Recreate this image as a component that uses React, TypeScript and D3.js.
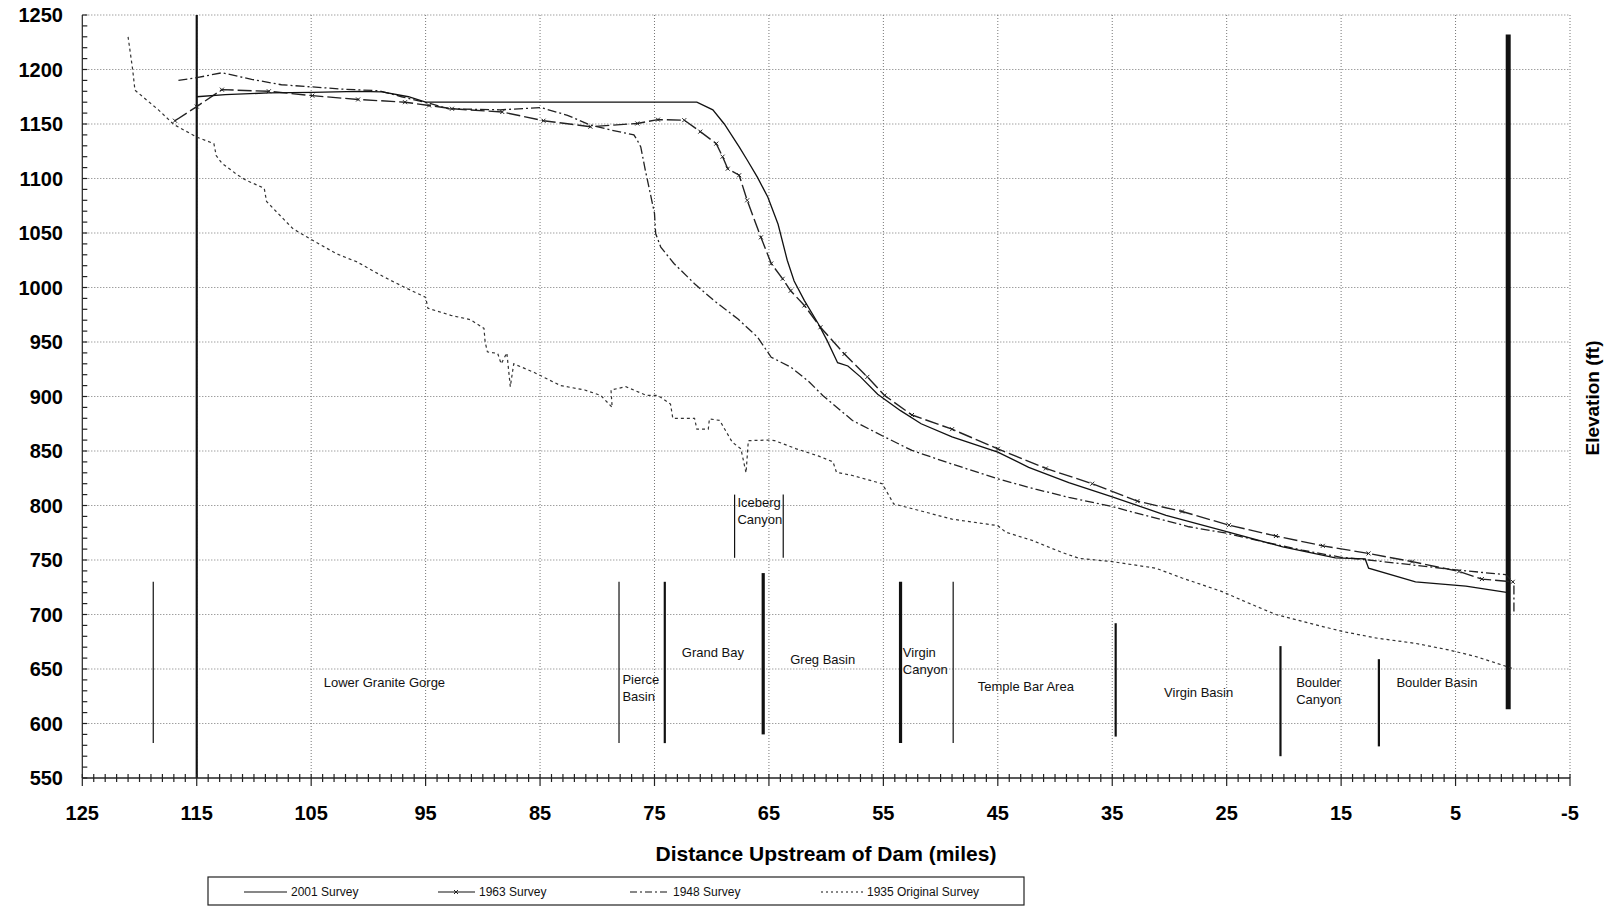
import React from "react";
import * as d3 from "d3";

const WIDTH = 1613;
const HEIGHT = 907;
const FONT = "'Liberation Sans', Arial, sans-serif";

// [miles upstream, elevation ft]
const survey2001: [number, number][] = [
  [115, 1175], [112.5, 1177], [108.7, 1178.5], [104.9, 1179], [100.9, 1180],
  [98.8, 1179.5], [96.5, 1175], [95, 1170], [71.3, 1170], [69.9, 1163],
  [68.9, 1150], [67.6, 1129], [66.9, 1117], [66.0, 1101], [65.1, 1083],
  [64.2, 1058], [63.4, 1025], [62.8, 1006], [61.9, 988], [60.7, 967],
  [59.9, 951], [59.0, 931], [58.1, 928], [57.0, 918], [55.5, 902],
  [53.5, 887], [51.7, 875], [49.0, 863], [45.0, 849], [42.3, 835],
  [38.8, 821], [35.0, 808], [30.3, 791], [25.0, 776], [20.1, 762],
  [15.5, 752], [12.9, 751], [12.6, 742.5], [8.5, 730], [4.1, 726], [0.4, 720],
];

const survey1963: [number, number][] = [
  [116.9, 1153], [115, 1166], [112.8, 1181.5], [108.7, 1180], [104.9, 1176],
  [100.9, 1172.5], [96.8, 1170], [94.7, 1167], [92.7, 1164], [88.3, 1161],
  [84.7, 1153], [80.6, 1147.5], [76.5, 1150.5], [74.7, 1154], [72.4, 1153.5],
  [71.0, 1143], [69.6, 1132], [69.05, 1120], [68.6, 1109], [67.6, 1103],
  [66.9, 1080], [65.7, 1046], [64.8, 1022], [63.8, 1008], [63.1, 997],
  [61.9, 983.5], [60.5, 963.5], [58.4, 939], [56.4, 918], [54.9, 901],
  [52.5, 883], [49.0, 870], [45.0, 852], [40.8, 834], [36.75, 820],
  [32.8, 804], [28.9, 794.5], [24.8, 782], [20.7, 772], [16.6, 763],
  [12.6, 756], [8.8, 748.5], [4.7, 739.5], [2.7, 732.5], [0.0, 730],
];

const survey1948: [number, number][] = [
  [116.6, 1190], [115, 1192.5], [112.8, 1197], [110.2, 1191], [107.6, 1186],
  [104.9, 1184], [102.3, 1182], [99.1, 1180.5], [97.1, 1175], [94.7, 1169],
  [93.0, 1164], [88.5, 1163], [84.9, 1165], [82.6, 1158], [80.6, 1149],
  [78.8, 1144.5], [76.8, 1140], [76.5, 1135], [76.2, 1129], [75.8, 1107.5],
  [75.3, 1083], [75.0, 1068], [74.9, 1049.5], [74.45, 1037], [73.3, 1022],
  [71.5, 1003.5], [69.8, 988], [67.7, 971], [66.0, 954.5], [64.8, 936],
  [63.1, 927], [61.6, 914.5], [60.3, 901], [57.7, 878], [55.1, 864],
  [52.5, 850.5], [49.0, 838], [45.0, 824.5], [41.7, 815], [38.8, 807.5],
  [35.0, 799], [31.8, 790], [28.3, 780.5], [25.0, 774.5], [21.9, 767],
  [18.4, 759], [15.0, 752.5], [12.6, 750], [8.8, 745.5], [5.0, 741],
  [0.6, 736.5], [-0.1, 729], [-0.1, 701],
];

const survey1935: [number, number][] = [
  [121.0, 1230], [120.6, 1200], [120.4, 1181], [118.35, 1163], [117.0, 1149.5],
  [115.0, 1138], [113.5, 1132], [113.3, 1121], [112.8, 1114], [111.4, 1103],
  [110.7, 1098.5], [109.1, 1091], [108.9, 1079], [107.9, 1068], [106.6, 1054],
  [105.4, 1046.5], [102.8, 1031], [101.0, 1023.5], [98.7, 1010], [96.9, 1000.5],
  [95.0, 991], [94.8, 981], [92.8, 974.5], [91.1, 970.5], [89.9, 962.5],
  [89.8, 950], [89.6, 941], [88.7, 939.5], [88.4, 930], [87.9, 940],
  [87.6, 909], [87.3, 930], [85.5, 922], [83.2, 910], [81.1, 906],
  [79.7, 901], [78.7, 890], [78.8, 906], [77.5, 909], [75.7, 901],
  [74.7, 901], [73.6, 893], [73.4, 880], [71.5, 880], [71.3, 870],
  [70.3, 870], [70.2, 879.5], [69.3, 878], [68.2, 858], [67.45, 852],
  [67.0, 830], [66.8, 859.5], [65.1, 860], [64.5, 859.5], [62.6, 852],
  [60.7, 845.5], [59.4, 840], [59.1, 830.5], [57.7, 827.5], [55.1, 820],
  [54.1, 801.5], [51.9, 795.5], [49.0, 787.5], [45.0, 781.5], [44.3, 775.5],
  [42.0, 768], [39.4, 757], [37.9, 751.5], [35.0, 748.5], [31.2, 742.5],
  [28.9, 733.5], [25.4, 721], [23.1, 710.5], [20.7, 700], [17.2, 690.5],
  [14.9, 684.5], [12.0, 678.5], [8.5, 673.5], [5.6, 667.5], [3.25, 661.5],
  [0.6, 652.5], [0.0, 650.5],
];

// reach boundary markers: mile, top elev, bottom elev, weight class
const boundaries = [
  { mile: 118.8, top: 730, bottom: 582, weight: "light" },
  { mile: 115, top: 1250, bottom: 550, weight: "medium" },
  { mile: 78.1, top: 730, bottom: 582, weight: "light" },
  { mile: 74.1, top: 730, bottom: 582, weight: "medium" },
  { mile: 68.0, top: 810, bottom: 752, weight: "light" },
  { mile: 63.75, top: 810, bottom: 752, weight: "light" },
  { mile: 65.5, top: 738, bottom: 590, weight: "heavy" },
  { mile: 53.5, top: 730, bottom: 582, weight: "heavy" },
  { mile: 48.9, top: 730, bottom: 582, weight: "light" },
  { mile: 34.7, top: 692, bottom: 588, weight: "medium" },
  { mile: 20.3, top: 671, bottom: 570, weight: "medium" },
  { mile: 11.7, top: 659, bottom: 579, weight: "medium" },
  { mile: 0.4, top: 1232, bottom: 613, weight: "dam" },
];

const reachLabels = [
  { lines: ["Lower Granite Gorge"], mile: 98.6, elev: 638, align: "middle" },
  { lines: ["Pierce", "Basin"], mile: 77.8, elev: 641, align: "start" },
  { lines: ["Grand Bay"], mile: 69.9, elev: 666, align: "middle" },
  { lines: ["Greg Basin"], mile: 60.3, elev: 659, align: "middle" },
  { lines: ["Virgin", "Canyon"], mile: 53.3, elev: 665.5, align: "start" },
  { lines: ["Temple Bar Area"], mile: 42.55, elev: 634, align: "middle" },
  { lines: ["Iceberg", "Canyon"], mile: 67.75, elev: 803, align: "start" },
  { lines: ["Virgin Basin"], mile: 27.45, elev: 628.5, align: "middle" },
  { lines: ["Boulder", "Canyon"], mile: 18.93, elev: 638.5, align: "start" },
  { lines: ["Boulder Basin"], mile: 6.63, elev: 638.5, align: "middle" },
];

const xTicks = d3.range(125, -6, -10);
const yTicks = d3.range(550, 1251, 50);

const weightWidth: Record<string, number> = { light: 1.2, medium: 2.2, heavy: 3.2, dam: 5 };

export default function App() {
  const x = d3.scaleLinear().domain([125, -5]).range([82.3, 1570]);
  const y = d3.scaleLinear().domain([550, 1250]).range([778, 15]);
  const line = d3
    .line<[number, number]>()
    .x((d) => x(d[0]))
    .y((d) => y(d[1]));

  const x0 = x(125);
  const x1 = x(-5);
  const yBottom = y(550);

  const minorX = d3.range(125, -5.5, -1);
  const minorY = d3.range(550, 1251, 10);

  const xMark = (cx: number, cy: number, key: string) => (
    <path
      key={key}
      d={`M${cx - 2},${cy - 2}L${cx + 2},${cy + 2}M${cx - 2},${cy + 2}L${cx + 2},${cy - 2}`}
      stroke="#222"
      strokeWidth={1}
    />
  );

  return (
    <div style={{ position: "absolute", left: 0, top: 0 }}>
      <svg width={WIDTH} height={HEIGHT} style={{ display: "block", background: "#fff" }}>
        {/* grid */}
        <g stroke="#777" strokeWidth={1} strokeDasharray="1 2">
          {yTicks.filter((t) => t > 550).map((t) => (
            <line key={"gy" + t} x1={x0} x2={x1} y1={y(t)} y2={y(t)} />
          ))}
          {xTicks.filter((t) => t < 125).map((t) => (
            <line key={"gx" + t} x1={x(t)} x2={x(t)} y1={y(1250)} y2={yBottom} />
          ))}
        </g>

        {/* boundary markers */}
        {boundaries.map((b, i) => (
          <line
            key={"b" + i}
            x1={x(b.mile)}
            x2={x(b.mile)}
            y1={y(b.top)}
            y2={y(b.bottom)}
            stroke="#111"
            strokeWidth={weightWidth[b.weight]}
          />
        ))}

        {/* survey lines */}
        <path d={line(survey1935) || ""} fill="none" stroke="#333" strokeWidth={1.2} strokeDasharray="3 3" />
        <path d={line(survey1948) || ""} fill="none" stroke="#222" strokeWidth={1.3} strokeDasharray="9 3 2 3" />
        <path d={line(survey1963) || ""} fill="none" stroke="#222" strokeWidth={1.4} strokeDasharray="14 4" />
        {survey1963.map((d, i) => xMark(x(d[0]), y(d[1]), "m" + i))}
        <path d={line(survey2001) || ""} fill="none" stroke="#111" strokeWidth={1.3} />

        {/* reach labels */}
        <g fontFamily={FONT} fontSize={13} fill="#111">
          {reachLabels.map((r, i) => (
            <text
              key={"r" + i}
              x={x(r.mile)}
              y={y(r.elev)}
              textAnchor={r.align}
              dominantBaseline="central"
            >
              {r.lines.map((l, j) => (
                <tspan key={j} x={x(r.mile)} dy={j === 0 ? 0 : 17}>
                  {l}
                </tspan>
              ))}
            </text>
          ))}
        </g>

        {/* axes */}
        <line x1={x0} x2={x0} y1={y(1250)} y2={yBottom} stroke="#222" strokeWidth={1.2} />
        <line x1={x0} x2={x1} y1={yBottom} y2={yBottom} stroke="#222" strokeWidth={1.5} />
        <g stroke="#222" strokeWidth={1.2}>
          {minorY.map((t) => (
            <line key={"ty" + t} x1={x0} x2={x0 + 5} y1={y(t)} y2={y(t)} />
          ))}
          {minorX.map((t) => (
            <line
              key={"tx" + t}
              x1={x(t)}
              x2={x(t)}
              y1={yBottom - 4}
              y2={yBottom + (t % 10 === 5 || t % 10 === -5 ? 8 : 4)}
            />
          ))}
        </g>
        <g fontFamily={FONT} fontSize={20} fontWeight="bold" fill="#000">
          {yTicks.map((t) => (
            <text key={"ly" + t} x={63} y={y(t)} textAnchor="end" dominantBaseline="central">
              {t}
            </text>
          ))}
          {xTicks.map((t) => (
            <text key={"lx" + t} x={x(t)} y={813} textAnchor="middle" dominantBaseline="central">
              {t}
            </text>
          ))}
        </g>
        <text
          x={826}
          y={853}
          fontFamily={FONT}
          fontSize={21}
          fontWeight="bold"
          textAnchor="middle"
          dominantBaseline="central"
        >
          Distance Upstream of Dam (miles)
        </text>
        <text
          transform="translate(1592,398) rotate(-90)"
          fontFamily={FONT}
          fontSize={19}
          fontWeight="bold"
          textAnchor="middle"
          dominantBaseline="central"
        >
          Elevation (ft)
        </text>

        {/* legend */}
        <g fontFamily={FONT} fontSize={12} fill="#111">
          <rect x={208} y={877} width={816} height={28} fill="#fff" stroke="#222" strokeWidth={1.2} />
          <line x1={244} x2={287} y1={892} y2={892} stroke="#111" strokeWidth={1.2} />
          <text x={291} y={892} dominantBaseline="central">2001 Survey</text>
          <line x1={438} x2={475} y1={892} y2={892} stroke="#111" strokeWidth={1.2} />
          {xMark(456, 892, "legx")}
          <text x={479} y={892} dominantBaseline="central">1963 Survey</text>
          <line x1={630} x2={669} y1={892} y2={892} stroke="#111" strokeWidth={1.2} strokeDasharray="7 3 2 3" />
          <text x={673} y={892} dominantBaseline="central">1948 Survey</text>
          <line x1={821} x2={864} y1={892} y2={892} stroke="#111" strokeWidth={1.2} strokeDasharray="2 3" />
          <text x={867} y={892} dominantBaseline="central">1935 Original Survey</text>
        </g>
      </svg>
    </div>
  );
}
